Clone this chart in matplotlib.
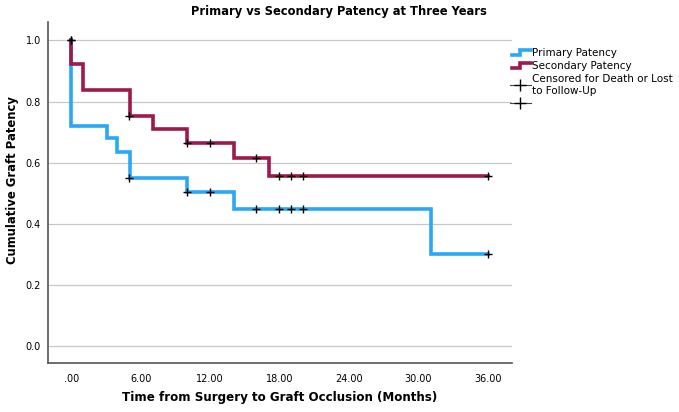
import matplotlib
matplotlib.use("Agg")
import matplotlib.pyplot as plt
from matplotlib.lines import Line2D

# Primary patency (Kaplan-Meier steps)
prim_t = [0, 0, 3.1, 4.0, 5.05, 10.05, 14.1, 31.1, 36]
prim_s = [1.0, 0.72, 0.68, 0.636, 0.551, 0.505, 0.45, 0.30, 0.30]
prim_cens_t = [0, 5, 10, 12, 16, 18, 19, 20, 36]
prim_cens_s = [1.0, 0.551, 0.505, 0.505, 0.45, 0.45, 0.45, 0.45, 0.30]

# Secondary patency
sec_t = [0, 0, 1.0, 5.05, 7.1, 10.05, 14.1, 17.1, 36]
sec_s = [1.0, 0.922, 0.837, 0.753, 0.71, 0.664, 0.615, 0.558, 0.558]
sec_cens_t = [0, 5, 10, 12, 16, 18, 19, 20, 36]
sec_cens_s = [1.0, 0.753, 0.664, 0.664, 0.615, 0.558, 0.558, 0.558, 0.558]

xticks = [0, 6, 12, 18, 24, 30, 36]
xticklabels = [".00", "6.00", "12.00", "18.00", "24.00", "30.00", "36.00"]
yticks = [0.0, 0.2, 0.4, 0.6, 0.8, 1.0]
yticklabels = ["0.0", "0.2", "0.4", "0.6", "0.8", "1.0"]

blue = "#2AA8F4"
red = "#9E1A4D"

plt.rcParams['font.family'] = ['DejaVu Sans']


class StepHandler:
    def legend_artist(self, legend, orig_handle, fontsize, handlebox):
        x0, y0 = -handlebox.xdescent, -handlebox.ydescent
        w, h = handlebox.width, handlebox.height
        xm = x0 + 0.5 * w
        ln = Line2D([x0 + 0.1 * w, xm, xm, x0 + w],
                    [y0 + 0.15 * h, y0 + 0.15 * h, y0 + 0.85 * h, y0 + 0.85 * h],
                    color=orig_handle.get_color(), lw=orig_handle.get_linewidth(),
                    solid_joinstyle="miter", transform=handlebox.get_transform())
        handlebox.add_artist(ln)
        return ln


W, H = 679, 412
fig = plt.figure(figsize=(W / 100, H / 100), dpi=100)
ax = fig.add_axes([48 / W, 1 - 363 / H, (512 - 48) / W, (363 - 22) / H])

for y in yticks:
    ax.axhline(y, color="#c8c8c8", lw=0.9, zorder=0)

ax.step(prim_t, prim_s, where="post", color=blue, lw=2.6, zorder=2, solid_joinstyle="miter")
ax.step(sec_t, sec_s, where="post", color=red, lw=2.6, zorder=3, solid_joinstyle="miter")
ax.plot(prim_cens_t, prim_cens_s, ls="none", marker="+", color="black", ms=6, mew=1.0, zorder=4)
ax.plot(sec_cens_t, sec_cens_s, ls="none", marker="+", color="black", ms=6, mew=1.0, zorder=4)

ax.set_xlim(-2.0, 38.1)
ax.set_ylim(-0.055, 1.06)
ax.set_xticks(xticks)
ax.set_xticklabels(xticklabels, fontsize=7)
ax.set_yticks(yticks)
ax.set_yticklabels(yticklabels, fontsize=7)
ax.tick_params(axis="x", length=0, pad=8)
ax.tick_params(axis="y", length=0, pad=5)
for s in ["top", "right"]:
    ax.spines[s].set_visible(False)
for s in ["left", "bottom"]:
    ax.spines[s].set_color("#555555")
    ax.spines[s].set_linewidth(1.2)

fig.text(338.5 / W, 1 - 12 / H, "Primary vs Secondary Patency at Three Years",
         fontsize=8.3, fontweight="bold", ha="center", va="center")
fig.text(280 / W, 1 - 397 / H, "Time from Surgery to Graft Occlusion (Months)",
         fontsize=8.6, fontweight="bold", ha="center", va="center")
fig.text(13 / W, 1 - 180 / H, "Cumulative Graft Patency",
         fontsize=8.4, fontweight="bold", ha="center", va="center", rotation=90)

h_prim = Line2D([], [], color=blue, lw=2.6)
h_sec = Line2D([], [], color=red, lw=2.6)
h_c1 = Line2D([], [], color="#444444", lw=0.8, marker="+", ms=9, mew=1.0, mec="black")
h_c2 = Line2D([], [], color="#444444", lw=0.8, marker="+", ms=9, mew=1.0, mec="black")
handles = [h_prim, h_sec, h_c1, h_c2]
labels = ["Primary Patency", "Secondary Patency", "Censored for Death or Lost\nto Follow-Up", ""]
leg = fig.legend(handles, labels, loc="upper left", bbox_to_anchor=(510 / W, 1 - 48 / H),
                 frameon=False, fontsize=7.5, handlelength=2.0, handletextpad=0.1,
                 labelspacing=0.3, borderaxespad=0, borderpad=0,
                 handler_map={h_prim: StepHandler(), h_sec: StepHandler()})

fig.savefig("out.png", dpi=100)
